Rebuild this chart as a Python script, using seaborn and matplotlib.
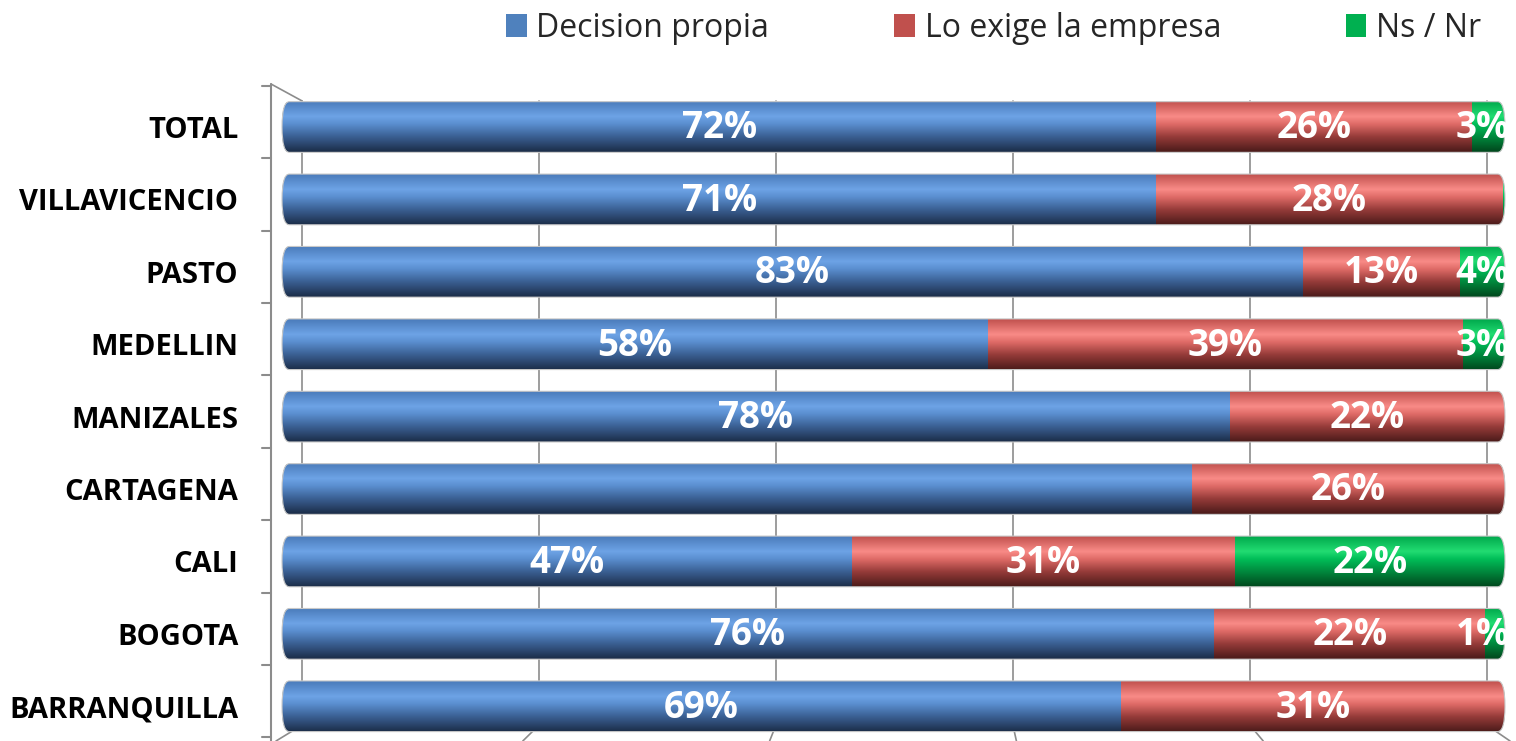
import numpy as np
import pandas as pd
import matplotlib
matplotlib.use("Agg")
import matplotlib.pyplot as plt
from matplotlib.colors import LinearSegmentedColormap
from matplotlib.patches import Patch, FancyBboxPatch
import seaborn as sns

sns.set_style("white")
plt.rcParams['font.family'] = ['Open Sans', 'DejaVu Sans']

# data (% of respondents)
ciudades = ["TOTAL", "VILLAVICENCIO", "PASTO", "MEDELLIN", "MANIZALES",
            "CARTAGENA", "CALI", "BOGOTA", "BARRANQUILLA"]
decision_propia = [71.5, 71.5, 83.5, 57.7, 77.5, 74.4, 46.6, 76.2, 68.6]
lo_exige = [25.8, 28.3, 12.8, 38.9, 22.5, 25.6, 31.3, 22.2, 31.4]
ns_nr = [2.7, 0.2, 3.7, 3.4, 0.0, 0.0, 22.1, 1.6, 0.0]

lbl_decision = ["72%", "71%", "83%", "58%", "78%", "", "47%", "76%", "69%"]
lbl_exige = ["26%", "28%", "13%", "39%", "22%", "26%", "31%", "22%", "31%"]
lbl_nsnr = ["3%", "", "4%", "3%", "", "", "22%", "1%", ""]

series = ["Decision propia", "Lo exige la empresa", "Ns / Nr"]
base_colors = ["#4F81BD", "#C0504D", "#00B050"]

# cylinder shading, top -> bottom
shades = {
    "#4F81BD": ["#4A7BBA", "#6DA3E6", "#5A8ECF", "#3A5F92", "#1B2C47"],
    "#C0504D": ["#C0504D", "#F98B87", "#DF6B67", "#953B39", "#4A1A19"],
    "#00B050": ["#00A84C", "#22DC72", "#00BE58", "#00883D", "#00461C"],
}
stops = [0.0, 0.3, 0.45, 0.7, 1.0]

df = pd.DataFrame({"ciudad": ciudades})
df["c1"] = np.array(decision_propia)
df["c2"] = df["c1"] + np.array(lo_exige)
df["c3"] = df["c2"] + np.array(ns_nr)

W, H = 1516, 741
fig = plt.figure(figsize=(W / 100, H / 100), dpi=100)
ax = fig.add_axes([260 / W, 0, 1 - 260 / W, 1 - 84 / H])

BAR_H = 0.7
# stacked bars via cumulative totals, widest drawn first
layers = [("c3", base_colors[2], 1), ("c2", base_colors[1], 2), ("c1", base_colors[0], 3)]
for col, color, z in layers:
    sns.barplot(data=df, y="ciudad", x=col, color=color, width=BAR_H,
                orient="h", ax=ax, zorder=z, saturation=1, linewidth=0)

# rounded cylinder outline per row, used to clip the shaded segments
envelopes = []
for i, tot in enumerate(df["c3"]):
    env = FancyBboxPatch((0, i - BAR_H / 2), tot, BAR_H,
                         boxstyle="round,pad=0,rounding_size=0.6", mutation_aspect=0.58,
                         facecolor="none", edgecolor="#C8C8C8", lw=0.8, zorder=6)
    ax.add_patch(env)
    envelopes.append(env)
for p in ax.patches:
    if not isinstance(p, FancyBboxPatch):
        row = int(round(p.get_y() + p.get_height() / 2))
        p.set_clip_path(envelopes[row])

grad = np.linspace(0, 1, 256).reshape(-1, 1)
starts = [np.zeros(len(ciudades)), df["c1"].values, df["c2"].values]
vals = [decision_propia, lo_exige, ns_nr]
lbls = [lbl_decision, lbl_exige, lbl_nsnr]
for k, (st, vv, color) in enumerate(zip(starts, vals, base_colors)):
    cmap = LinearSegmentedColormap.from_list(series[k], list(zip(stops, shades[color])))
    for i, (s, v) in enumerate(zip(st, vv)):
        if v <= 0:
            continue
        y0 = i - BAR_H / 2
        im = ax.imshow(grad, cmap=cmap, extent=(s, s + v, y0 + BAR_H, y0),
                       aspect="auto", origin="upper", zorder=4,
                       interpolation="bilinear")
        im.set_clip_path(envelopes[i])

# value labels (small ones at the right end are pulled inside, like the original)
for st, vv, ll in zip(starts, vals, lbls):
    for i, (s, v, t) in enumerate(zip(st, vv, ll)):
        if t:
            xc = min(s + v / 2, 98.2)
            ax.text(xc, i + 0.02, t, ha="center", va="center", color="white",
                    fontsize=26.5, fontweight="bold", zorder=10, clip_on=False)

# back wall gridlines (slight perspective like the original)
gl = "#8C8C8C"
for p in range(0, 101, 20):
    gb = 1.64 + 0.9687 * p
    gf = -0.49 + 1.009 * p
    ax.plot([gb, gb], [-0.36, 8.26], color=gl, lw=1.2, zorder=0.5)
    ax.plot([gb, gf], [8.26, 8.48], color=gl, lw=1.2, zorder=0.5, clip_on=False)

# left wall edge and category ticks
ax.plot([-0.9, -0.9], [-0.594, 8.48], color=gl, lw=1.5, zorder=0.5, clip_on=False)
ax.plot([-0.9, 1.64], [-0.594, -0.36], color=gl, lw=1.2, zorder=0.5, clip_on=False)
for k in range(10):
    ax.plot([-1.6, -0.9], [-0.57 + k, -0.57 + k], color=gl, lw=1.5, zorder=0.5, clip_on=False)

ax.set_xlim(-1.8, 100.9)
ax.set_ylim(8.48, -0.594)
ax.set_xticks([])
ax.set_yticks(range(len(ciudades)))
ax.set_yticklabels(ciudades, fontsize=21, fontweight="bold", color="black")
ax.tick_params(axis="y", length=0, pad=15.5)
ax.set_xlabel("")
ax.set_ylabel("")
sns.despine(ax=ax, left=True, bottom=True)

handles = [Patch(facecolor=c, edgecolor="none", label=s) for c, s in zip(base_colors, series)]
fig.legend(handles=handles, loc="upper left", bbox_to_anchor=(477 / W, 1.0 + 17 / H), ncol=3,
           frameon=False, fontsize=23, handlelength=0.65, handleheight=0.7,
           handletextpad=0.31, columnspacing=3.9)

fig.savefig("out.png", dpi=100)
